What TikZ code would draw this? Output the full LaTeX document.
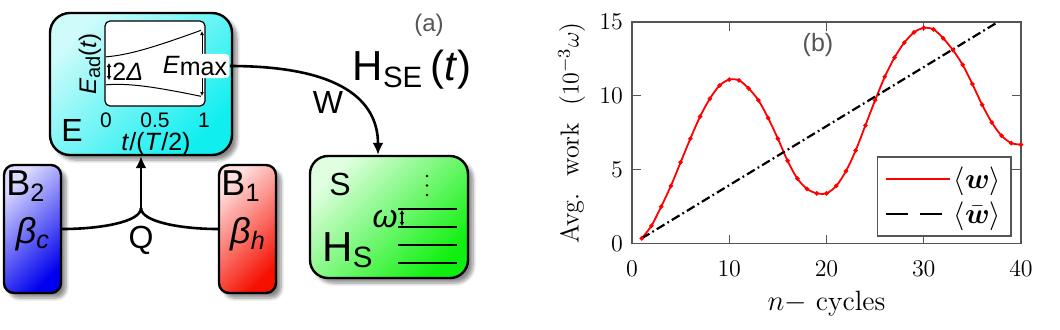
\documentclass[tikz,border=0pt]{standalone}
\usepackage{fontspec}
\setsansfont{Liberation Sans}
\usepackage{xcolor}
\usepackage{tikz}
\usetikzlibrary{positioning,arrows.meta,shadows.blur}
\usepackage{pgfplots}
\pgfplotsset{compat=1.18}
\usepackage{amsmath}
\definecolor{clightcyan}{HTML}{CFFBFB}
\definecolor{cdarkcyan}{HTML}{10EEF0}
\definecolor{clightblue}{HTML}{DCDCFF}
\definecolor{cdarkblue}{HTML}{0000EE}
\definecolor{clightred}{HTML}{FFE0E0}
\definecolor{cdarkred}{HTML}{F51000}
\definecolor{clightgreen}{HTML}{E0FFE0}
\definecolor{cdarkgreen}{HTML}{10F010}
\definecolor{caxis}{HTML}{555555}
\tikzset{
  tankbox/.style={draw=black, line width=1.2pt, inner sep=0pt, shading angle=45,
    blur shadow={shadow xshift=2.5pt, shadow yshift=-2.5pt, shadow blur steps=6, shadow opacity=45}},
  linkline/.style={line width=1.3pt, color=black},
  flowarrow/.style={-{Latex[length=6pt,width=5.5pt]}, linkline},
  biglabel/.style={font=\sffamily\fontsize{16}{18}\selectfont, inner sep=0pt},
  bathlabel/.style={font=\sffamily\fontsize{18}{20}\selectfont, inner sep=0pt},
  hugelabel/.style={font=\sffamily\fontsize{21}{24}\selectfont, inner sep=0pt},
  smalllabel/.style={font=\sffamily\fontsize{12.5}{14}\selectfont, inner sep=0pt},
  ticklabel/.style={font=\sffamily\fontsize{10.5}{12}\selectfont, inner sep=0pt}
}

\begin{document}
\begin{tikzpicture}[x=0.5pt, y=-0.5pt]
  \useasboundingbox (0,0) rectangle (1060,329);

  % (a) engine sketch
  \node[tankbox, top color=clightcyan, bottom color=cdarkcyan, shading angle=45,
    rounded corners=10pt, minimum width=91pt, minimum height=71pt] (ebox) at (141,84) {};
  \node[draw, line width=0.6pt, fill=white, rounded corners=2.5pt, inner sep=0pt,
    minimum width=50pt, minimum height=42.5pt] (eplot) at (155,63.5) {};
  \draw[line width=0.5pt] plot[domain=0:1, samples=30]
    ({106+95*\x},{70.8-7.5*\x-sqrt(196+893*\x*\x)});
  \draw[line width=0.5pt] plot[domain=0:1, samples=30]
    ({106+95*\x},{70.8-7.5*\x+sqrt(196+893*\x*\x)});
  \draw[line width=0.5pt, {Latex[length=2pt,width=2pt]}-{Latex[length=2pt,width=2pt]}]
    (202,31) -- (202,96);
  \draw[line width=0.6pt, {Latex[length=2pt,width=2.5pt]}-{Latex[length=2pt,width=2.5pt]}]
    (109,63) -- (109,80);
  \node[smalllabel, anchor=west] (gap) at (112,71.5) {2\textit{Δ}};
  \node[fill=white, rounded corners=2pt, inner sep=1.2pt,
    font=\sffamily\fontsize{12.5}{14}\selectfont] (emax) at (195,66)
    {\textit{E}\raisebox{-1pt}{max}};
  \node[font=\sffamily\fontsize{12}{14}\selectfont, inner sep=0pt, rotate=90] (eaxis) at (90,64)
    {\textit{E}\raisebox{-2pt}{\fontsize{10}{12}\selectfont ad}(\textit{t})};
  \node[ticklabel] (t0) at (106,120) {0};
  \node[ticklabel] (t1) at (155,120) {0.5};
  \node[ticklabel] (t2) at (204,120) {1};
  \node[font=\sffamily\fontsize{12.5}{14}\selectfont, inner sep=0pt] (taxis) at (156,144)
    {\textit{t}/(\textit{T}/2)};
  \node[biglabel] (elbl) at (72,130) {E};

  % baths
  \node[tankbox, top color=clightblue, bottom color=cdarkblue, shading angle=45,
    rounded corners=5pt, minimum width=28.5pt, minimum height=64pt] (b2) at (32.5,229) {};
  \node[tankbox, top color=clightred, bottom color=cdarkred, shading angle=45,
    rounded corners=5pt, minimum width=28.5pt, minimum height=64pt] (b1) at (247.5,229) {};
  \node[bathlabel] (b2lbl) at (26,186) {B\textsubscript{2}};
  \node[bathlabel] (b2beta) at (33,234) {\textit{β}\textsubscript{\textit{c}}};
  \node[bathlabel] (b1lbl) at (241,186) {B\textsubscript{1}};
  \node[bathlabel] (b1beta) at (248,234) {\textit{β}\textsubscript{\textit{h}}};

  % system
  \node[tankbox, top color=clightgreen, bottom color=cdarkgreen, shading angle=45,
    rounded corners=9pt, minimum width=79pt, minimum height=61pt] (sbox) at (389,217) {};
  \node[biglabel] (slbl) at (340,184) {S};
  \node[hugelabel] (hslbl) at (348,250) {H\textsubscript{S}};
  \foreach \ly in {209,227,245,263}
    \draw[line width=0.9pt] (398,\ly) -- (457,\ly);
  \foreach \dy in {176,185.5,195}
    \fill (427,\dy) circle (1.3);
  \draw[line width=0.6pt, {Latex[length=2pt,width=2.5pt]}-{Latex[length=2pt,width=2.5pt]}]
    (402,210) -- (402,226);
  \node[font=\sffamily\itshape\fontsize{16}{18}\selectfont, inner sep=0pt] (omega) at (385,219) {ω};

  % heat and work flows
  \coordinate (qjoin) at (141,208);
  \draw[linkline] (b2.east) .. controls (100,229) and (141,222) .. (qjoin);
  \draw[linkline] (b1.west) .. controls (182,229) and (141,222) .. (qjoin);
  \draw[flowarrow] (qjoin) -- (ebox.south);
  \node[biglabel] (qlbl) at (141,240) {Q};
  \draw[flowarrow] (emax.east) .. controls (340,66) and (378,100) .. ([xshift=-5.5pt]sbox.north);
  \node[biglabel] (wlbl) at (328,102) {W};
  \node[hugelabel] (hse) at (412,70) {H\textsubscript{SE}\,(\textit{t})};
  \node[font=\sffamily\fontsize{12}{14}\selectfont, text=caxis, inner sep=0pt] (alabel) at (429,25) {(a)};

  % (b) average work
  \coordinate (plotsw) at (632,243.5);
  \begin{scope}[x=1cm, y=1cm]
  \begin{axis}[at={(plotsw)}, anchor=south west, scale only axis,
      width=194.5pt, height=110.75pt,
      xmin=0, xmax=40, ymin=0, ymax=15,
      xtick={0,10,20,30,40}, ytick={0,5,10,15},
      axis line style={color=caxis, line width=0.8pt},
      tick style={color=caxis, line width=0.6pt},
      tick label style={font=\sffamily\fontsize{12.5}{14}\selectfont},
      xticklabel style={yshift=-5pt},
      yticklabel style={xshift=-1pt},
      xlabel={$n-$ cycles}, ylabel={Avg.\ \ work\ \ ($10^{-3}\omega$)},
      every axis x label/.style={at={(axis description cs:0.5,-0.27)}, anchor=center,
        font=\rmfamily\fontsize{14}{16}\selectfont},
      every axis y label/.style={at={(axis description cs:-0.155,0.5)}, rotate=90, anchor=center,
        font=\rmfamily\fontsize{13}{15}\selectfont},
      legend style={at={(0.976,0.03)}, anchor=south east, draw=caxis, line width=0.7pt,
        font=\rmfamily\fontsize{14}{16}\selectfont, inner sep=3.5pt, row sep=2pt,
        nodes={inner sep=1.5pt}},
      legend cell align=left,
      legend image code/.code={\draw[#1] (0pt,0pt) -- (32pt,0pt);}]
    \addplot[red, line width=0.9pt, smooth, mark=*, mark size=0.6pt] coordinates {
      (1,0.35) (2,1.2) (3,2.5) (4,3.9) (5,5.5) (6,7.1) (7,8.6) (8,9.8) (9,10.7) (10,11.1)
      (11,11.05) (12,10.5) (13,9.7) (14,8.5) (15,7.1) (16,5.6) (17,4.4) (18,3.7) (19,3.4) (20,3.4)
      (21,3.9) (22,4.9) (23,6.3) (24,8.0) (25,9.7) (26,11.3) (27,12.6) (28,13.6) (29,14.3) (30,14.6)
      (31,14.5) (32,13.9) (33,13.1) (34,12.1) (35,10.8) (36,9.4) (37,8.2) (38,7.3) (39,6.8) (40,6.7)};
    \addlegendentry{$\langle\boldsymbol{w}\rangle$}
    \addplot[black, line width=1.1pt, domain=1:40, samples=2, forget plot,
      dash pattern=on 4.5pt off 1.7pt on 0.9pt off 1.7pt] {0.4*x-0.05};
    \addlegendimage{black, line width=1.1pt, dash pattern=on 11pt off 6pt}
    \addlegendentry{$\langle\bar{\boldsymbol{w}}\rangle$}
  \end{axis}
  \end{scope}
  \node[font=\sffamily\fontsize{12.5}{14}\selectfont, text=caxis, inner sep=0pt] (blabel) at (818,45) {(b)};
\end{tikzpicture}
\end{document}
